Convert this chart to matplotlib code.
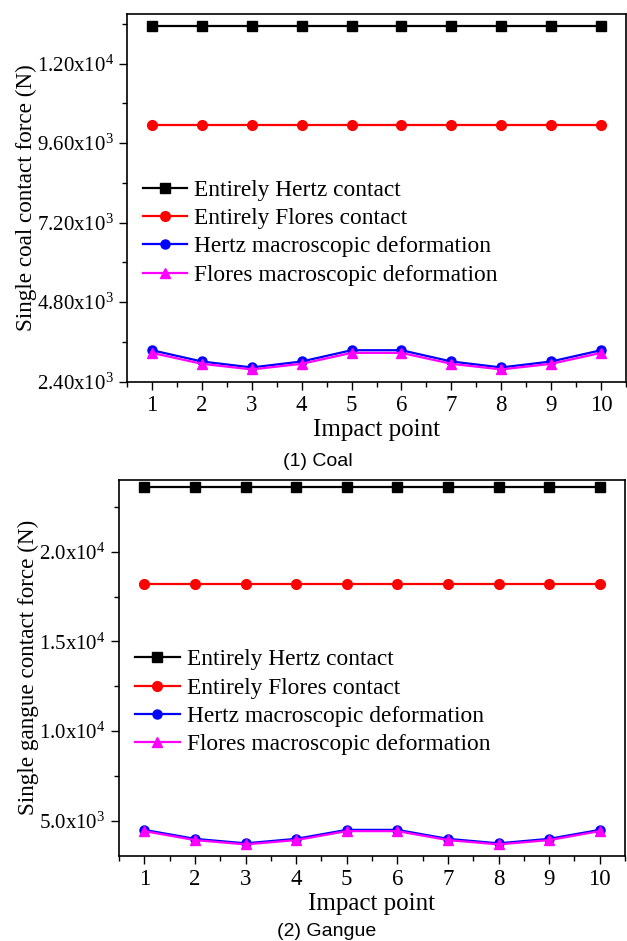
import matplotlib
matplotlib.use("Agg")
import matplotlib.pyplot as plt
from matplotlib.ticker import MultipleLocator, FuncFormatter

plt.rcParams['font.family'] = ['Liberation Serif', 'DejaVu Serif']
plt.rcParams['mathtext.fontset'] = 'custom'
plt.rcParams['mathtext.rm'] = 'Liberation Serif'
plt.rcParams['mathtext.it'] = 'Liberation Serif:italic'

impact = [1, 2, 3, 4, 5, 6, 7, 8, 9, 10]
labels = ["Entirely Hertz contact", "Entirely Flores contact",
          "Hertz macroscopic deformation", "Flores macroscopic deformation"]

# coal
coal_hertz = [13150] * 10
coal_flores = [10150] * 10
coal_hertz_macro = [3350, 3010, 2830, 3010, 3350, 3350, 3010, 2830, 3010, 3350]
coal_flores_macro = [3270, 2940, 2770, 2940, 3270, 3270, 2940, 2770, 2940, 3270]

# gangue
gangue_hertz = [23600] * 10
gangue_flores = [18200] * 10
gangue_hertz_macro = [4490, 3990, 3740, 3990, 4490, 4490, 3990, 3740, 3990, 4490]
gangue_flores_macro = [4420, 3920, 3680, 3920, 4420, 4420, 3920, 3680, 3920, 4420]


def sci(fmt):
    def f(v, pos):
        if v == 0:
            return "0"
        e = 0
        m = v
        while abs(m) >= 10:
            m /= 10.0
            e += 1
        return (fmt % m) + "x10$^{\\mathrm{%d}}$" % e
    return f


def panel(ax, series, ylo, yhi, major, minor, fmt, ylabel, leg_y):
    styles = [("black", "s", 6.5), ("red", "o", 7), ("blue", "o", 6.5), ("magenta", "^", 7)]
    for (c, m, ms), ys, lab in zip(styles, series, labels):
        ax.plot(impact, ys, color=c, marker=m, markersize=ms, lw=1.6, label=lab)
    ax.set_xlim(0.5, 10.5)
    ax.set_ylim(ylo, yhi)
    ax.xaxis.set_major_locator(MultipleLocator(1))
    ax.xaxis.set_minor_locator(MultipleLocator(0.5))
    ax.yaxis.set_major_locator(MultipleLocator(major))
    ax.yaxis.set_minor_locator(MultipleLocator(minor))
    ax.yaxis.set_major_formatter(FuncFormatter(sci(fmt)))
    ax.tick_params(which='major', direction='out', length=6, width=1, labelsize=15)
    ax.tick_params(axis='x', which='major', labelsize=16.5)
    ax.tick_params(which='minor', direction='out', length=3.5, width=1)
    ax.tick_params(top=False, right=False, which='both')
    for s in ax.spines.values():
        s.set_linewidth(1.2)
    ax.set_xlabel("Impact point", fontsize=18, labelpad=2)
    ax.set_ylabel(ylabel, fontsize=16.7, labelpad=0)
    ax.legend(loc='upper left', bbox_to_anchor=(0.032, leg_y), frameon=False,
              fontsize=16.8, handlelength=1.9, handletextpad=0.3, labelspacing=0.3,
              borderpad=0, borderaxespad=0)


fig = plt.figure(figsize=(6.27, 9.41), dpi=100)

ax1 = fig.add_axes([127 / 627, 1 - 381.7 / 941, 499 / 627, 367.7 / 941])
panel(ax1, [coal_hertz, coal_flores, coal_hertz_macro, coal_flores_macro],
      2400, 13500, 2400, 1200, "%.2f", "Single coal contact force (N)", 0.55)

ax2 = fig.add_axes([119 / 627, 1 - 855.7 / 941, 506 / 627, 375.7 / 941])
panel(ax2, [gangue_hertz, gangue_flores, gangue_hertz_macro, gangue_flores_macro],
      3050, 24000, 5000, 2500, "%.1f", "Single gangue contact force (N)", 0.55)

fig.text(318 / 627, 1 - 462 / 941, "(1) Coal", family=['Liberation Sans'], fontsize=14,
         ha='center', va='center')
fig.text(327 / 627, 1 - 932 / 941, "(2) Gangue", family=['Liberation Sans'], fontsize=14,
         ha='center', va='center')

fig.savefig("out.png", dpi=100)
